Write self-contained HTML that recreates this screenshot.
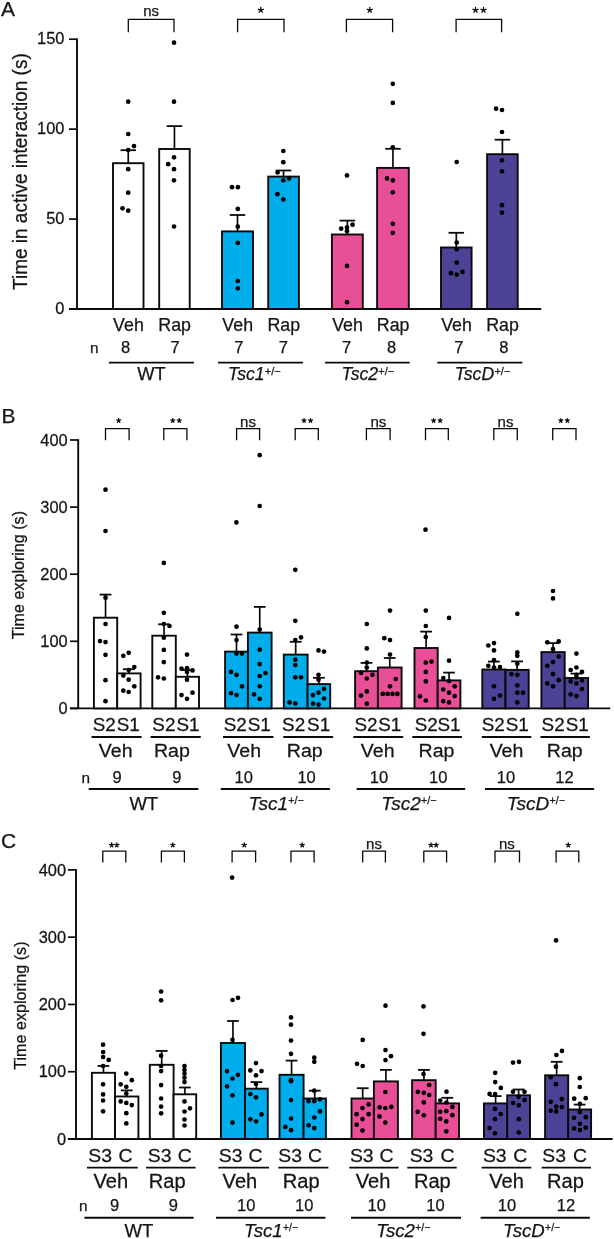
<!DOCTYPE html>
<html><head><meta charset="utf-8"><title>Figure</title>
<style>
html,body{margin:0;padding:0;background:#fff;}
body{width:614px;height:1239px;overflow:hidden;}
svg{display:block;will-change:transform;}
text{font-family:"Liberation Sans",sans-serif;fill:#141414;stroke:#141414;stroke-width:0.25px;}
</style></head>
<body>
<svg width="614" height="1239" viewBox="0 0 614 1239">
<text x="0.9" y="16.1" font-size="21" text-anchor="start">A</text>
<line x1="77" y1="38.4" x2="77" y2="309" stroke="#0a0a0a" stroke-width="1.9"/>
<line x1="69" y1="309" x2="77" y2="309" stroke="#0a0a0a" stroke-width="1.7"/>
<text transform="matrix(1.05 0 0 1 64.4 314.2)" font-size="15.6" text-anchor="end">0</text>
<line x1="69" y1="219.07" x2="77" y2="219.07" stroke="#0a0a0a" stroke-width="1.7"/>
<text transform="matrix(1.05 0 0 1 64.4 224.27)" font-size="15.6" text-anchor="end">50</text>
<line x1="69" y1="129.13" x2="77" y2="129.13" stroke="#0a0a0a" stroke-width="1.7"/>
<text transform="matrix(1.05 0 0 1 64.4 134.33)" font-size="15.6" text-anchor="end">100</text>
<line x1="69" y1="39.2" x2="77" y2="39.2" stroke="#0a0a0a" stroke-width="1.7"/>
<text transform="matrix(1.05 0 0 1 64.4 44.4)" font-size="15.6" text-anchor="end">150</text>
<line x1="69" y1="309" x2="541.2" y2="309" stroke="#0a0a0a" stroke-width="1.9"/>
<text transform="translate(26.8 171.6) scale(1.05 1) rotate(-90)" font-size="19" text-anchor="middle">Time in active interaction (s)</text>
<rect x="113" y="163.2" width="30.5" height="145.8" fill="#FFFFFF" stroke="#0a0a0a" stroke-width="1.9"/>
<rect x="159.2" y="149" width="30.5" height="160" fill="#FFFFFF" stroke="#0a0a0a" stroke-width="1.9"/>
<rect x="222" y="231.4" width="31" height="77.6" fill="#00ADEC" stroke="#0a0a0a" stroke-width="1.9"/>
<rect x="268.2" y="176.6" width="30.7" height="132.4" fill="#00ADEC" stroke="#0a0a0a" stroke-width="1.9"/>
<rect x="331.9" y="234.5" width="30.9" height="74.5" fill="#E84F96" stroke="#0a0a0a" stroke-width="1.9"/>
<rect x="377.1" y="167.9" width="31.7" height="141.1" fill="#E84F96" stroke="#0a0a0a" stroke-width="1.9"/>
<rect x="441" y="247.5" width="30.6" height="61.5" fill="#4C4396" stroke="#0a0a0a" stroke-width="1.9"/>
<rect x="487.1" y="154.2" width="30.6" height="154.8" fill="#4C4396" stroke="#0a0a0a" stroke-width="1.9"/>
<line x1="128.25" y1="163.2" x2="128.25" y2="150.2" stroke="#0a0a0a" stroke-width="1.7"/>
<line x1="120.5" y1="150.2" x2="136" y2="150.2" stroke="#0a0a0a" stroke-width="1.8"/>
<circle cx="128.2" cy="101.7" r="2.35"/>
<circle cx="128.2" cy="134" r="2.35"/>
<circle cx="134" cy="146.1" r="2.35"/>
<circle cx="128.2" cy="150" r="2.35"/>
<circle cx="128.2" cy="169.2" r="2.35"/>
<circle cx="128.2" cy="192.7" r="2.35"/>
<circle cx="122.5" cy="208.3" r="2.35"/>
<circle cx="128.2" cy="210.7" r="2.35"/>
<line x1="174.45" y1="149" x2="174.45" y2="126.1" stroke="#0a0a0a" stroke-width="1.7"/>
<line x1="166.7" y1="126.1" x2="182.2" y2="126.1" stroke="#0a0a0a" stroke-width="1.8"/>
<circle cx="174" cy="42.7" r="2.35"/>
<circle cx="174" cy="101.7" r="2.35"/>
<circle cx="174" cy="157.3" r="2.35"/>
<circle cx="168.2" cy="164.2" r="2.35"/>
<circle cx="174" cy="169.2" r="2.35"/>
<circle cx="174" cy="180.3" r="2.35"/>
<circle cx="174" cy="226.5" r="2.35"/>
<line x1="237.5" y1="231.4" x2="237.5" y2="215" stroke="#0a0a0a" stroke-width="1.7"/>
<line x1="229.75" y1="215" x2="245.25" y2="215" stroke="#0a0a0a" stroke-width="1.8"/>
<circle cx="232" cy="187.2" r="2.35"/>
<circle cx="237.9" cy="187.2" r="2.35"/>
<circle cx="237.8" cy="208.9" r="2.35"/>
<circle cx="237.8" cy="226.7" r="2.35"/>
<circle cx="237.8" cy="242.9" r="2.35"/>
<circle cx="237.8" cy="281" r="2.35"/>
<circle cx="237.8" cy="288.3" r="2.35"/>
<line x1="283.55" y1="176.6" x2="283.55" y2="170.5" stroke="#0a0a0a" stroke-width="1.7"/>
<line x1="275.8" y1="170.5" x2="291.3" y2="170.5" stroke="#0a0a0a" stroke-width="1.8"/>
<circle cx="283.3" cy="151" r="2.35"/>
<circle cx="283.3" cy="162.2" r="2.35"/>
<circle cx="277.6" cy="172.5" r="2.35"/>
<circle cx="289" cy="178.4" r="2.35"/>
<circle cx="283.3" cy="180.3" r="2.35"/>
<circle cx="277.5" cy="194.2" r="2.35"/>
<circle cx="283.3" cy="199.4" r="2.35"/>
<line x1="347.35" y1="234.5" x2="347.35" y2="220.6" stroke="#0a0a0a" stroke-width="1.7"/>
<line x1="339.6" y1="220.6" x2="355.1" y2="220.6" stroke="#0a0a0a" stroke-width="1.8"/>
<circle cx="347" cy="175.4" r="2.35"/>
<circle cx="341.2" cy="228.7" r="2.35"/>
<circle cx="352.6" cy="224.7" r="2.35"/>
<circle cx="347" cy="227.4" r="2.35"/>
<circle cx="347" cy="231.2" r="2.35"/>
<circle cx="347" cy="265.9" r="2.35"/>
<circle cx="347" cy="302.2" r="2.35"/>
<line x1="392.95" y1="167.9" x2="392.95" y2="148.8" stroke="#0a0a0a" stroke-width="1.7"/>
<line x1="385.2" y1="148.8" x2="400.7" y2="148.8" stroke="#0a0a0a" stroke-width="1.8"/>
<circle cx="392.8" cy="83.8" r="2.35"/>
<circle cx="392.8" cy="102.9" r="2.35"/>
<circle cx="392.8" cy="147.3" r="2.35"/>
<circle cx="387" cy="178.4" r="2.35"/>
<circle cx="392.8" cy="180.3" r="2.35"/>
<circle cx="392.8" cy="192.3" r="2.35"/>
<circle cx="392.8" cy="223.8" r="2.35"/>
<circle cx="392.8" cy="232.8" r="2.35"/>
<line x1="456.3" y1="247.5" x2="456.3" y2="232.8" stroke="#0a0a0a" stroke-width="1.7"/>
<line x1="448.55" y1="232.8" x2="464.05" y2="232.8" stroke="#0a0a0a" stroke-width="1.8"/>
<circle cx="456.7" cy="162" r="2.35"/>
<circle cx="456.7" cy="242.6" r="2.35"/>
<circle cx="456.7" cy="249.2" r="2.35"/>
<circle cx="456.7" cy="262.6" r="2.35"/>
<circle cx="450.9" cy="273.2" r="2.35"/>
<circle cx="456.7" cy="274.6" r="2.35"/>
<circle cx="462.5" cy="271.9" r="2.35"/>
<line x1="502.4" y1="154.2" x2="502.4" y2="139.7" stroke="#0a0a0a" stroke-width="1.7"/>
<line x1="494.65" y1="139.7" x2="510.15" y2="139.7" stroke="#0a0a0a" stroke-width="1.8"/>
<circle cx="496.1" cy="108.7" r="2.35"/>
<circle cx="502" cy="110" r="2.35"/>
<circle cx="502" cy="132" r="2.35"/>
<circle cx="502" cy="160.3" r="2.35"/>
<circle cx="502" cy="171.3" r="2.35"/>
<circle cx="502" cy="205.2" r="2.35"/>
<circle cx="502" cy="212.6" r="2.35"/>
<path d="M128.3 32.2V19.4H174V32.2" fill="none" stroke="#0a0a0a" stroke-width="1.3"/>
<text x="151.2" y="16.2" font-size="15" text-anchor="middle">ns</text>
<path d="M237.6 32.2V19.4H284V32.2" fill="none" stroke="#0a0a0a" stroke-width="1.3"/>
<path d="M260.8 10.1L260.8 7.45M260.8 10.1L263.32 9.28M260.8 10.1L262.36 12.24M260.8 10.1L259.24 12.24M260.8 10.1L258.28 9.28" stroke="#0a0a0a" stroke-width="1.3" stroke-linecap="round" fill="none"/>
<path d="M346.4 32.2V19.4H392.6V32.2" fill="none" stroke="#0a0a0a" stroke-width="1.3"/>
<path d="M369.8 10.1L369.8 7.45M369.8 10.1L372.32 9.28M369.8 10.1L371.36 12.24M369.8 10.1L368.24 12.24M369.8 10.1L367.28 9.28" stroke="#0a0a0a" stroke-width="1.3" stroke-linecap="round" fill="none"/>
<path d="M456.1 32.2V19.4H501.6V32.2" fill="none" stroke="#0a0a0a" stroke-width="1.3"/>
<path d="M475.5 10.1L475.5 7.45M475.5 10.1L478.02 9.28M475.5 10.1L477.06 12.24M475.5 10.1L473.94 12.24M475.5 10.1L472.98 9.28" stroke="#0a0a0a" stroke-width="1.3" stroke-linecap="round" fill="none"/>
<path d="M483.5 10.1L483.5 7.45M483.5 10.1L486.02 9.28M483.5 10.1L485.06 12.24M483.5 10.1L481.94 12.24M483.5 10.1L480.98 9.28" stroke="#0a0a0a" stroke-width="1.3" stroke-linecap="round" fill="none"/>
<text x="128.45" y="331.4" font-size="17.8" text-anchor="middle">Veh</text>
<text x="174.65" y="331.4" font-size="17.8" text-anchor="middle">Rap</text>
<text x="237.7" y="331.4" font-size="17.8" text-anchor="middle">Veh</text>
<text x="283.75" y="331.4" font-size="17.8" text-anchor="middle">Rap</text>
<text x="347.55" y="331.4" font-size="17.8" text-anchor="middle">Veh</text>
<text x="393.15" y="331.4" font-size="17.8" text-anchor="middle">Rap</text>
<text x="456.5" y="331.4" font-size="17.8" text-anchor="middle">Veh</text>
<text x="502.6" y="331.4" font-size="17.8" text-anchor="middle">Rap</text>
<text x="89.9" y="353" font-size="15.3" text-anchor="start">n</text>
<text x="125.5" y="353" font-size="16.5" text-anchor="middle">8</text>
<text x="175" y="353" font-size="16.5" text-anchor="middle">7</text>
<text x="238.8" y="353" font-size="16.5" text-anchor="middle">7</text>
<text x="283.3" y="353" font-size="16.5" text-anchor="middle">7</text>
<text x="346.6" y="353" font-size="16.5" text-anchor="middle">7</text>
<text x="391.7" y="353" font-size="16.5" text-anchor="middle">8</text>
<text x="458.9" y="353" font-size="16.5" text-anchor="middle">7</text>
<text x="503.9" y="353" font-size="16.5" text-anchor="middle">8</text>
<line x1="108.9" y1="362.6" x2="193.9" y2="362.6" stroke="#0a0a0a" stroke-width="1.95"/>
<line x1="218" y1="362.6" x2="303" y2="362.6" stroke="#0a0a0a" stroke-width="1.95"/>
<line x1="325.1" y1="362.6" x2="409.7" y2="362.6" stroke="#0a0a0a" stroke-width="1.95"/>
<line x1="437.3" y1="362.6" x2="522.4" y2="362.6" stroke="#0a0a0a" stroke-width="1.95"/>
<text x="151.5" y="379.9" font-size="18.3" text-anchor="middle">WT</text>
<text x="228" y="379.9" font-size="17.6" text-anchor="start"><tspan font-style="italic">Tsc1</tspan><tspan font-size="11" dx="0.3" dy="-5.28">+/&#8722;</tspan></text>
<text x="341.5" y="379.9" font-size="17.6" text-anchor="start"><tspan font-style="italic">Tsc2</tspan><tspan font-size="11" dx="0.3" dy="-5.28">+/&#8722;</tspan></text>
<text x="454.7" y="379.9" font-size="17.6" text-anchor="start"><tspan font-style="italic">TscD</tspan><tspan font-size="11" dx="0.3" dy="-5.28">+/&#8722;</tspan></text>
<text x="1.5" y="422.6" font-size="21" text-anchor="start">B</text>
<line x1="78.2" y1="439.2" x2="78.2" y2="708.4" stroke="#0a0a0a" stroke-width="1.9"/>
<line x1="70" y1="708.4" x2="78.2" y2="708.4" stroke="#0a0a0a" stroke-width="1.7"/>
<text transform="matrix(1.05 0 0 1 67.6 714)" font-size="15.6" text-anchor="end">0</text>
<line x1="70" y1="641.3" x2="78.2" y2="641.3" stroke="#0a0a0a" stroke-width="1.7"/>
<text transform="matrix(1.05 0 0 1 67.6 646.9)" font-size="15.6" text-anchor="end">100</text>
<line x1="70" y1="574.2" x2="78.2" y2="574.2" stroke="#0a0a0a" stroke-width="1.7"/>
<text transform="matrix(1.05 0 0 1 67.6 579.8)" font-size="15.6" text-anchor="end">200</text>
<line x1="70" y1="507.1" x2="78.2" y2="507.1" stroke="#0a0a0a" stroke-width="1.7"/>
<text transform="matrix(1.05 0 0 1 67.6 512.7)" font-size="15.6" text-anchor="end">300</text>
<line x1="70" y1="440" x2="78.2" y2="440" stroke="#0a0a0a" stroke-width="1.7"/>
<text transform="matrix(1.05 0 0 1 67.6 445.6)" font-size="15.6" text-anchor="end">400</text>
<line x1="70" y1="708.4" x2="610.2" y2="708.4" stroke="#0a0a0a" stroke-width="1.9"/>
<text transform="translate(24.3 575.1) scale(1.08 1) rotate(-90)" font-size="16.1" text-anchor="middle">Time exploring (s)</text>
<rect x="93.9" y="617.7" width="23.3" height="90.7" fill="#FFFFFF" stroke="#0a0a0a" stroke-width="1.9"/>
<rect x="117.2" y="673.4" width="23.4" height="35" fill="#FFFFFF" stroke="#0a0a0a" stroke-width="1.9"/>
<rect x="152.3" y="635.7" width="23.5" height="72.7" fill="#FFFFFF" stroke="#0a0a0a" stroke-width="1.9"/>
<rect x="175.8" y="676.8" width="23.2" height="31.6" fill="#FFFFFF" stroke="#0a0a0a" stroke-width="1.9"/>
<rect x="225.1" y="651.6" width="22.8" height="56.8" fill="#00ADEC" stroke="#0a0a0a" stroke-width="1.9"/>
<rect x="247.9" y="632.6" width="23.7" height="75.8" fill="#00ADEC" stroke="#0a0a0a" stroke-width="1.9"/>
<rect x="283.8" y="654.6" width="23.8" height="53.8" fill="#00ADEC" stroke="#0a0a0a" stroke-width="1.9"/>
<rect x="307.6" y="684.1" width="22.6" height="24.3" fill="#00ADEC" stroke="#0a0a0a" stroke-width="1.9"/>
<rect x="355.1" y="671.2" width="22.8" height="37.2" fill="#E84F96" stroke="#0a0a0a" stroke-width="1.9"/>
<rect x="377.9" y="667.5" width="23.7" height="40.9" fill="#E84F96" stroke="#0a0a0a" stroke-width="1.9"/>
<rect x="414.5" y="648" width="23.2" height="60.4" fill="#E84F96" stroke="#0a0a0a" stroke-width="1.9"/>
<rect x="437.7" y="680.4" width="22.7" height="28" fill="#E84F96" stroke="#0a0a0a" stroke-width="1.9"/>
<rect x="482.3" y="669.5" width="23.2" height="38.9" fill="#4C4396" stroke="#0a0a0a" stroke-width="1.9"/>
<rect x="505.5" y="669.9" width="23.2" height="38.5" fill="#4C4396" stroke="#0a0a0a" stroke-width="1.9"/>
<rect x="541.4" y="652.1" width="23.3" height="56.3" fill="#4C4396" stroke="#0a0a0a" stroke-width="1.9"/>
<rect x="564.7" y="678" width="23.4" height="30.4" fill="#4C4396" stroke="#0a0a0a" stroke-width="1.9"/>
<line x1="105.55" y1="617.7" x2="105.55" y2="594.6" stroke="#0a0a0a" stroke-width="1.7"/>
<line x1="99.65" y1="594.6" x2="111.45" y2="594.6" stroke="#0a0a0a" stroke-width="1.8"/>
<line x1="128.9" y1="673.4" x2="128.9" y2="669.2" stroke="#0a0a0a" stroke-width="1.7"/>
<line x1="123" y1="669.2" x2="134.8" y2="669.2" stroke="#0a0a0a" stroke-width="1.8"/>
<line x1="164.05" y1="635.7" x2="164.05" y2="624.3" stroke="#0a0a0a" stroke-width="1.7"/>
<line x1="158.15" y1="624.3" x2="169.95" y2="624.3" stroke="#0a0a0a" stroke-width="1.8"/>
<line x1="187.4" y1="676.8" x2="187.4" y2="670" stroke="#0a0a0a" stroke-width="1.7"/>
<line x1="181.5" y1="670" x2="193.3" y2="670" stroke="#0a0a0a" stroke-width="1.8"/>
<line x1="236.5" y1="651.6" x2="236.5" y2="634.5" stroke="#0a0a0a" stroke-width="1.7"/>
<line x1="230.6" y1="634.5" x2="242.4" y2="634.5" stroke="#0a0a0a" stroke-width="1.8"/>
<line x1="259.75" y1="632.6" x2="259.75" y2="606.9" stroke="#0a0a0a" stroke-width="1.7"/>
<line x1="253.85" y1="606.9" x2="265.65" y2="606.9" stroke="#0a0a0a" stroke-width="1.8"/>
<line x1="295.7" y1="654.6" x2="295.7" y2="641.8" stroke="#0a0a0a" stroke-width="1.7"/>
<line x1="289.8" y1="641.8" x2="301.6" y2="641.8" stroke="#0a0a0a" stroke-width="1.8"/>
<line x1="318.9" y1="684.1" x2="318.9" y2="677.8" stroke="#0a0a0a" stroke-width="1.7"/>
<line x1="313" y1="677.8" x2="324.8" y2="677.8" stroke="#0a0a0a" stroke-width="1.8"/>
<line x1="366.5" y1="671.2" x2="366.5" y2="662.9" stroke="#0a0a0a" stroke-width="1.7"/>
<line x1="360.6" y1="662.9" x2="372.4" y2="662.9" stroke="#0a0a0a" stroke-width="1.8"/>
<line x1="389.75" y1="667.5" x2="389.75" y2="658" stroke="#0a0a0a" stroke-width="1.7"/>
<line x1="383.85" y1="658" x2="395.65" y2="658" stroke="#0a0a0a" stroke-width="1.8"/>
<line x1="426.1" y1="648" x2="426.1" y2="631.6" stroke="#0a0a0a" stroke-width="1.7"/>
<line x1="420.2" y1="631.6" x2="432" y2="631.6" stroke="#0a0a0a" stroke-width="1.8"/>
<line x1="449.05" y1="680.4" x2="449.05" y2="672.6" stroke="#0a0a0a" stroke-width="1.7"/>
<line x1="443.15" y1="672.6" x2="454.95" y2="672.6" stroke="#0a0a0a" stroke-width="1.8"/>
<line x1="493.9" y1="669.5" x2="493.9" y2="661.6" stroke="#0a0a0a" stroke-width="1.7"/>
<line x1="488" y1="661.6" x2="499.8" y2="661.6" stroke="#0a0a0a" stroke-width="1.8"/>
<line x1="517.1" y1="669.9" x2="517.1" y2="661.4" stroke="#0a0a0a" stroke-width="1.7"/>
<line x1="511.2" y1="661.4" x2="523" y2="661.4" stroke="#0a0a0a" stroke-width="1.8"/>
<line x1="553.05" y1="652.1" x2="553.05" y2="643.1" stroke="#0a0a0a" stroke-width="1.7"/>
<line x1="547.15" y1="643.1" x2="558.95" y2="643.1" stroke="#0a0a0a" stroke-width="1.8"/>
<line x1="576.4" y1="678" x2="576.4" y2="673.6" stroke="#0a0a0a" stroke-width="1.7"/>
<line x1="570.5" y1="673.6" x2="582.3" y2="673.6" stroke="#0a0a0a" stroke-width="1.8"/>
<circle cx="105.5" cy="489.7" r="2.35"/>
<circle cx="105.5" cy="531" r="2.35"/>
<circle cx="105.5" cy="597.7" r="2.35"/>
<circle cx="105.5" cy="624" r="2.35"/>
<circle cx="100" cy="641.1" r="2.35"/>
<circle cx="105.5" cy="642.1" r="2.35"/>
<circle cx="105.5" cy="654.8" r="2.35"/>
<circle cx="105.5" cy="680.2" r="2.35"/>
<circle cx="105.5" cy="701.2" r="2.35"/>
<circle cx="123.3" cy="655.8" r="2.35"/>
<circle cx="128.7" cy="652.8" r="2.35"/>
<circle cx="134.3" cy="667" r="2.35"/>
<circle cx="123.3" cy="675.6" r="2.35"/>
<circle cx="128.7" cy="679.7" r="2.35"/>
<circle cx="134.3" cy="686.3" r="2.35"/>
<circle cx="123.3" cy="690.7" r="2.35"/>
<circle cx="128.7" cy="692" r="2.35"/>
<circle cx="128.7" cy="670" r="2.35"/>
<circle cx="163.8" cy="562.9" r="2.35"/>
<circle cx="163.8" cy="612.8" r="2.35"/>
<circle cx="163.8" cy="624" r="2.35"/>
<circle cx="169.5" cy="626" r="2.35"/>
<circle cx="163.8" cy="637.7" r="2.35"/>
<circle cx="163.8" cy="649.9" r="2.35"/>
<circle cx="163.8" cy="662.1" r="2.35"/>
<circle cx="158" cy="677.3" r="2.35"/>
<circle cx="163.8" cy="678.5" r="2.35"/>
<circle cx="187" cy="654.6" r="2.35"/>
<circle cx="181.5" cy="668.7" r="2.35"/>
<circle cx="187" cy="668.2" r="2.35"/>
<circle cx="192.5" cy="670.4" r="2.35"/>
<circle cx="187" cy="679.7" r="2.35"/>
<circle cx="181.5" cy="695.1" r="2.35"/>
<circle cx="187" cy="698.8" r="2.35"/>
<circle cx="192.5" cy="692.7" r="2.35"/>
<circle cx="187" cy="672" r="2.35"/>
<circle cx="236.4" cy="522.4" r="2.35"/>
<circle cx="236.5" cy="626.7" r="2.35"/>
<circle cx="236.5" cy="640.1" r="2.35"/>
<circle cx="236.5" cy="653.6" r="2.35"/>
<circle cx="242" cy="653.6" r="2.35"/>
<circle cx="231" cy="671.9" r="2.35"/>
<circle cx="236.5" cy="674.8" r="2.35"/>
<circle cx="242" cy="686.3" r="2.35"/>
<circle cx="231" cy="693.2" r="2.35"/>
<circle cx="236.5" cy="695.1" r="2.35"/>
<circle cx="259.7" cy="455.2" r="2.35"/>
<circle cx="259.7" cy="506" r="2.35"/>
<circle cx="259.7" cy="629.6" r="2.35"/>
<circle cx="259.7" cy="649.7" r="2.35"/>
<circle cx="259.7" cy="664.1" r="2.35"/>
<circle cx="259.7" cy="676" r="2.35"/>
<circle cx="265.5" cy="673.1" r="2.35"/>
<circle cx="259.7" cy="686.3" r="2.35"/>
<circle cx="254" cy="694.4" r="2.35"/>
<circle cx="259.7" cy="698.8" r="2.35"/>
<circle cx="295.3" cy="569.8" r="2.35"/>
<circle cx="295.3" cy="620.8" r="2.35"/>
<circle cx="301" cy="637.4" r="2.35"/>
<circle cx="295.3" cy="640.1" r="2.35"/>
<circle cx="295.3" cy="659.7" r="2.35"/>
<circle cx="295.3" cy="665.1" r="2.35"/>
<circle cx="295.3" cy="677.3" r="2.35"/>
<circle cx="301" cy="677.3" r="2.35"/>
<circle cx="289.5" cy="702.4" r="2.35"/>
<circle cx="295.3" cy="703.4" r="2.35"/>
<circle cx="318.5" cy="650.4" r="2.35"/>
<circle cx="324" cy="651.6" r="2.35"/>
<circle cx="318.5" cy="674.8" r="2.35"/>
<circle cx="318.5" cy="679.7" r="2.35"/>
<circle cx="324" cy="688.8" r="2.35"/>
<circle cx="313" cy="695.1" r="2.35"/>
<circle cx="318.5" cy="692.7" r="2.35"/>
<circle cx="324" cy="698.5" r="2.35"/>
<circle cx="313" cy="703.7" r="2.35"/>
<circle cx="318.5" cy="704.6" r="2.35"/>
<circle cx="366.8" cy="624" r="2.35"/>
<circle cx="366.8" cy="648.4" r="2.35"/>
<circle cx="366.8" cy="662.6" r="2.35"/>
<circle cx="366.8" cy="667.5" r="2.35"/>
<circle cx="361" cy="672.9" r="2.35"/>
<circle cx="366.8" cy="678.5" r="2.35"/>
<circle cx="372.5" cy="674.8" r="2.35"/>
<circle cx="366.8" cy="691.4" r="2.35"/>
<circle cx="361" cy="695.6" r="2.35"/>
<circle cx="366.8" cy="703.7" r="2.35"/>
<circle cx="390" cy="610.6" r="2.35"/>
<circle cx="384.3" cy="638.2" r="2.35"/>
<circle cx="390" cy="640.1" r="2.35"/>
<circle cx="390" cy="654.6" r="2.35"/>
<circle cx="395.7" cy="679" r="2.35"/>
<circle cx="390" cy="686.3" r="2.35"/>
<circle cx="382.8" cy="693.9" r="2.35"/>
<circle cx="387.6" cy="693.9" r="2.35"/>
<circle cx="392.5" cy="693.9" r="2.35"/>
<circle cx="397.4" cy="693.9" r="2.35"/>
<circle cx="425.5" cy="529.7" r="2.35"/>
<circle cx="425.8" cy="610.6" r="2.35"/>
<circle cx="425.8" cy="626" r="2.35"/>
<circle cx="425.8" cy="637" r="2.35"/>
<circle cx="425.8" cy="662.6" r="2.35"/>
<circle cx="431.5" cy="661.6" r="2.35"/>
<circle cx="425.8" cy="671.9" r="2.35"/>
<circle cx="425.8" cy="681.4" r="2.35"/>
<circle cx="420" cy="696.3" r="2.35"/>
<circle cx="425.8" cy="700.5" r="2.35"/>
<circle cx="449" cy="617.9" r="2.35"/>
<circle cx="449" cy="660.7" r="2.35"/>
<circle cx="443.3" cy="678" r="2.35"/>
<circle cx="449" cy="681" r="2.35"/>
<circle cx="454.7" cy="686.3" r="2.35"/>
<circle cx="443.3" cy="689.5" r="2.35"/>
<circle cx="449" cy="692.7" r="2.35"/>
<circle cx="454.7" cy="696.1" r="2.35"/>
<circle cx="443.3" cy="701.2" r="2.35"/>
<circle cx="449" cy="702.4" r="2.35"/>
<circle cx="488.3" cy="645.5" r="2.35"/>
<circle cx="494" cy="643.1" r="2.35"/>
<circle cx="494" cy="650.4" r="2.35"/>
<circle cx="494" cy="660.2" r="2.35"/>
<circle cx="488.3" cy="665.8" r="2.35"/>
<circle cx="500" cy="667" r="2.35"/>
<circle cx="494" cy="686.3" r="2.35"/>
<circle cx="500" cy="695.6" r="2.35"/>
<circle cx="494" cy="698.8" r="2.35"/>
<circle cx="494" cy="667.5" r="2.35"/>
<circle cx="517.3" cy="613.8" r="2.35"/>
<circle cx="517.3" cy="652.4" r="2.35"/>
<circle cx="517.3" cy="655.8" r="2.35"/>
<circle cx="517.3" cy="663.8" r="2.35"/>
<circle cx="511.5" cy="674.1" r="2.35"/>
<circle cx="517.3" cy="674.8" r="2.35"/>
<circle cx="517.3" cy="685.3" r="2.35"/>
<circle cx="517.3" cy="692.7" r="2.35"/>
<circle cx="523" cy="692.7" r="2.35"/>
<circle cx="517.3" cy="702.4" r="2.35"/>
<circle cx="553" cy="591" r="2.35"/>
<circle cx="553" cy="598.4" r="2.35"/>
<circle cx="547.3" cy="642.3" r="2.35"/>
<circle cx="558.7" cy="641.4" r="2.35"/>
<circle cx="553" cy="649.2" r="2.35"/>
<circle cx="558.7" cy="656.5" r="2.35"/>
<circle cx="553" cy="662.1" r="2.35"/>
<circle cx="547.3" cy="665.8" r="2.35"/>
<circle cx="553" cy="674.1" r="2.35"/>
<circle cx="558.7" cy="680.2" r="2.35"/>
<circle cx="547.3" cy="683.4" r="2.35"/>
<circle cx="553" cy="686.3" r="2.35"/>
<circle cx="576.4" cy="653.6" r="2.35"/>
<circle cx="576.4" cy="667.5" r="2.35"/>
<circle cx="570.7" cy="670" r="2.35"/>
<circle cx="582" cy="671.9" r="2.35"/>
<circle cx="576.4" cy="674.8" r="2.35"/>
<circle cx="570.7" cy="681.4" r="2.35"/>
<circle cx="582" cy="680.4" r="2.35"/>
<circle cx="576.4" cy="683.4" r="2.35"/>
<circle cx="582" cy="689" r="2.35"/>
<circle cx="570.7" cy="694.4" r="2.35"/>
<circle cx="576.4" cy="696.1" r="2.35"/>
<circle cx="576.4" cy="677.3" r="2.35"/>
<path d="M105.5 440.2V428.7H129.1V440.2" fill="none" stroke="#0a0a0a" stroke-width="1.3"/>
<path d="M118.7 420.6L118.7 418.55M118.7 420.6L120.65 419.97M118.7 420.6L119.9 422.26M118.7 420.6L117.5 422.26M118.7 420.6L116.75 419.97" stroke="#0a0a0a" stroke-width="1.3" stroke-linecap="round" fill="none"/>
<path d="M163.8 440.2V428.7H186.9V440.2" fill="none" stroke="#0a0a0a" stroke-width="1.3"/>
<path d="M172.75 420.6L172.75 418.55M172.75 420.6L174.7 419.97M172.75 420.6L173.95 422.26M172.75 420.6L171.55 422.26M172.75 420.6L170.8 419.97" stroke="#0a0a0a" stroke-width="1.3" stroke-linecap="round" fill="none"/>
<path d="M179.25 420.6L179.25 418.55M179.25 420.6L181.2 419.97M179.25 420.6L180.45 422.26M179.25 420.6L178.05 422.26M179.25 420.6L177.3 419.97" stroke="#0a0a0a" stroke-width="1.3" stroke-linecap="round" fill="none"/>
<path d="M236.6 440.2V428.7H259.6V440.2" fill="none" stroke="#0a0a0a" stroke-width="1.3"/>
<text x="248" y="426.7" font-size="15" text-anchor="middle">ns</text>
<path d="M295.2 440.2V428.7H318.3V440.2" fill="none" stroke="#0a0a0a" stroke-width="1.3"/>
<path d="M304.05 420.6L304.05 418.55M304.05 420.6L306 419.97M304.05 420.6L305.25 422.26M304.05 420.6L302.85 422.26M304.05 420.6L302.1 419.97" stroke="#0a0a0a" stroke-width="1.3" stroke-linecap="round" fill="none"/>
<path d="M310.55 420.6L310.55 418.55M310.55 420.6L312.5 419.97M310.55 420.6L311.75 422.26M310.55 420.6L309.35 422.26M310.55 420.6L308.6 419.97" stroke="#0a0a0a" stroke-width="1.3" stroke-linecap="round" fill="none"/>
<path d="M366.4 440.2V428.7H390.1V440.2" fill="none" stroke="#0a0a0a" stroke-width="1.3"/>
<text x="378.4" y="426.7" font-size="15" text-anchor="middle">ns</text>
<path d="M425.5 440.2V428.7H448.3V440.2" fill="none" stroke="#0a0a0a" stroke-width="1.3"/>
<path d="M433.65 420.6L433.65 418.55M433.65 420.6L435.6 419.97M433.65 420.6L434.85 422.26M433.65 420.6L432.45 422.26M433.65 420.6L431.7 419.97" stroke="#0a0a0a" stroke-width="1.3" stroke-linecap="round" fill="none"/>
<path d="M440.15 420.6L440.15 418.55M440.15 420.6L442.1 419.97M440.15 420.6L441.35 422.26M440.15 420.6L438.95 422.26M440.15 420.6L438.2 419.97" stroke="#0a0a0a" stroke-width="1.3" stroke-linecap="round" fill="none"/>
<path d="M493.8 440.2V428.7H517.3V440.2" fill="none" stroke="#0a0a0a" stroke-width="1.3"/>
<text x="505.5" y="426.7" font-size="15" text-anchor="middle">ns</text>
<path d="M552.7 440.2V428.7H576V440.2" fill="none" stroke="#0a0a0a" stroke-width="1.3"/>
<path d="M560.85 420.6L560.85 418.55M560.85 420.6L562.8 419.97M560.85 420.6L562.05 422.26M560.85 420.6L559.65 422.26M560.85 420.6L558.9 419.97" stroke="#0a0a0a" stroke-width="1.3" stroke-linecap="round" fill="none"/>
<path d="M567.35 420.6L567.35 418.55M567.35 420.6L569.3 419.97M567.35 420.6L568.55 422.26M567.35 420.6L566.15 422.26M567.35 420.6L565.4 419.97" stroke="#0a0a0a" stroke-width="1.3" stroke-linecap="round" fill="none"/>
<text transform="matrix(1.05 0 0 1 104.3 730.8)" font-size="18" text-anchor="middle">S2</text>
<text transform="matrix(1.05 0 0 1 128.3 730.8)" font-size="18" text-anchor="middle">S1</text>
<line x1="91.6" y1="737" x2="141.6" y2="737" stroke="#0a0a0a" stroke-width="1.8"/>
<text transform="matrix(1.03 0 0 1 115.7 756.9)" font-size="19" text-anchor="middle">Veh</text>
<text x="117.1" y="782.7" font-size="16.5" text-anchor="middle">9</text>
<text transform="matrix(1.05 0 0 1 163.9 730.8)" font-size="18" text-anchor="middle">S2</text>
<text transform="matrix(1.05 0 0 1 188 730.8)" font-size="18" text-anchor="middle">S1</text>
<line x1="150.6" y1="737" x2="200.7" y2="737" stroke="#0a0a0a" stroke-width="1.8"/>
<text transform="matrix(1.03 0 0 1 171.9 756.9)" font-size="19" text-anchor="middle">Rap</text>
<text x="176.8" y="782.7" font-size="16.5" text-anchor="middle">9</text>
<text transform="matrix(1.05 0 0 1 235.3 730.8)" font-size="18" text-anchor="middle">S2</text>
<text transform="matrix(1.05 0 0 1 259.2 730.8)" font-size="18" text-anchor="middle">S1</text>
<line x1="223" y1="737" x2="273.5" y2="737" stroke="#0a0a0a" stroke-width="1.8"/>
<text transform="matrix(1.03 0 0 1 244.2 756.9)" font-size="19" text-anchor="middle">Veh</text>
<text x="243.7" y="782.7" font-size="16.5" text-anchor="middle">10</text>
<text transform="matrix(1.05 0 0 1 293.6 730.8)" font-size="18" text-anchor="middle">S2</text>
<text transform="matrix(1.05 0 0 1 318.6 730.8)" font-size="18" text-anchor="middle">S1</text>
<line x1="283.3" y1="737" x2="333.1" y2="737" stroke="#0a0a0a" stroke-width="1.8"/>
<text transform="matrix(1.03 0 0 1 304.8 756.9)" font-size="19" text-anchor="middle">Rap</text>
<text x="306.6" y="782.7" font-size="16.5" text-anchor="middle">10</text>
<text transform="matrix(1.05 0 0 1 366 730.8)" font-size="18" text-anchor="middle">S2</text>
<text transform="matrix(1.05 0 0 1 389.7 730.8)" font-size="18" text-anchor="middle">S1</text>
<line x1="353.3" y1="737" x2="403.2" y2="737" stroke="#0a0a0a" stroke-width="1.8"/>
<text transform="matrix(1.03 0 0 1 377.7 756.9)" font-size="19" text-anchor="middle">Veh</text>
<text x="378.9" y="782.7" font-size="16.5" text-anchor="middle">10</text>
<text transform="matrix(1.05 0 0 1 426.2 730.8)" font-size="18" text-anchor="middle">S2</text>
<text transform="matrix(1.05 0 0 1 449 730.8)" font-size="18" text-anchor="middle">S1</text>
<line x1="412.3" y1="737" x2="461.9" y2="737" stroke="#0a0a0a" stroke-width="1.8"/>
<text transform="matrix(1.03 0 0 1 436.5 756.9)" font-size="19" text-anchor="middle">Rap</text>
<text x="438.3" y="782.7" font-size="16.5" text-anchor="middle">10</text>
<text transform="matrix(1.05 0 0 1 493.3 730.8)" font-size="18" text-anchor="middle">S2</text>
<text transform="matrix(1.05 0 0 1 517.2 730.8)" font-size="18" text-anchor="middle">S1</text>
<line x1="481.8" y1="737" x2="531.3" y2="737" stroke="#0a0a0a" stroke-width="1.8"/>
<text transform="matrix(1.03 0 0 1 506.5 756.9)" font-size="19" text-anchor="middle">Veh</text>
<text x="505.9" y="782.7" font-size="16.5" text-anchor="middle">10</text>
<text transform="matrix(1.05 0 0 1 553.1 730.8)" font-size="18" text-anchor="middle">S2</text>
<text transform="matrix(1.05 0 0 1 577.2 730.8)" font-size="18" text-anchor="middle">S1</text>
<line x1="540.4" y1="737" x2="589.9" y2="737" stroke="#0a0a0a" stroke-width="1.8"/>
<text transform="matrix(1.03 0 0 1 564.8 756.9)" font-size="19" text-anchor="middle">Rap</text>
<text x="564.5" y="782.7" font-size="16.5" text-anchor="middle">12</text>
<text x="81.6" y="782.7" font-size="15.3" text-anchor="start">n</text>
<line x1="88.7" y1="789" x2="198.4" y2="789" stroke="#0a0a0a" stroke-width="1.95"/>
<line x1="220.7" y1="789" x2="329.9" y2="789" stroke="#0a0a0a" stroke-width="1.95"/>
<line x1="356.6" y1="789" x2="465.1" y2="789" stroke="#0a0a0a" stroke-width="1.95"/>
<line x1="485" y1="789" x2="594.1" y2="789" stroke="#0a0a0a" stroke-width="1.95"/>
<text x="143.8" y="810" font-size="18.5" text-anchor="middle">WT</text>
<text x="248.6" y="810" font-size="19" text-anchor="start"><tspan font-style="italic">Tsc1</tspan><tspan font-size="10.64" dx="0.3" dy="-5.7">+/&#8722;</tspan></text>
<text x="381.3" y="810" font-size="19" text-anchor="start"><tspan font-style="italic">Tsc2</tspan><tspan font-size="10.64" dx="0.3" dy="-5.7">+/&#8722;</tspan></text>
<text x="506.7" y="810" font-size="19" text-anchor="start"><tspan font-style="italic">TscD</tspan><tspan font-size="10.64" dx="0.3" dy="-5.7">+/&#8722;</tspan></text>
<text x="0.9" y="848.3" font-size="21" text-anchor="start">C</text>
<line x1="76" y1="869.1" x2="76" y2="1139" stroke="#0a0a0a" stroke-width="1.9"/>
<line x1="67.9" y1="1139" x2="76" y2="1139" stroke="#0a0a0a" stroke-width="1.7"/>
<text transform="matrix(1.05 0 0 1 66 1144.6)" font-size="15.6" text-anchor="end">0</text>
<line x1="67.9" y1="1071.72" x2="76" y2="1071.72" stroke="#0a0a0a" stroke-width="1.7"/>
<text transform="matrix(1.05 0 0 1 66 1077.32)" font-size="15.6" text-anchor="end">100</text>
<line x1="67.9" y1="1004.45" x2="76" y2="1004.45" stroke="#0a0a0a" stroke-width="1.7"/>
<text transform="matrix(1.05 0 0 1 66 1010.05)" font-size="15.6" text-anchor="end">200</text>
<line x1="67.9" y1="937.17" x2="76" y2="937.17" stroke="#0a0a0a" stroke-width="1.7"/>
<text transform="matrix(1.05 0 0 1 66 942.77)" font-size="15.6" text-anchor="end">300</text>
<line x1="67.9" y1="869.9" x2="76" y2="869.9" stroke="#0a0a0a" stroke-width="1.7"/>
<text transform="matrix(1.05 0 0 1 66 875.5)" font-size="15.6" text-anchor="end">400</text>
<line x1="67.9" y1="1139" x2="612.6" y2="1139" stroke="#0a0a0a" stroke-width="1.9"/>
<text transform="translate(26.3 1005.6) scale(1.08 1) rotate(-90)" font-size="16.1" text-anchor="middle">Time exploring (s)</text>
<rect x="91.9" y="1072.8" width="23.1" height="66.2" fill="#FFFFFF" stroke="#0a0a0a" stroke-width="1.9"/>
<rect x="115" y="1096.5" width="23.4" height="42.5" fill="#FFFFFF" stroke="#0a0a0a" stroke-width="1.9"/>
<rect x="149.8" y="1064.8" width="23.8" height="74.2" fill="#FFFFFF" stroke="#0a0a0a" stroke-width="1.9"/>
<rect x="173.6" y="1094.3" width="22.6" height="44.7" fill="#FFFFFF" stroke="#0a0a0a" stroke-width="1.9"/>
<rect x="220.9" y="1043" width="24.1" height="96" fill="#00ADEC" stroke="#0a0a0a" stroke-width="1.9"/>
<rect x="245" y="1088.7" width="22.8" height="50.3" fill="#00ADEC" stroke="#0a0a0a" stroke-width="1.9"/>
<rect x="279.5" y="1074.8" width="24.1" height="64.2" fill="#00ADEC" stroke="#0a0a0a" stroke-width="1.9"/>
<rect x="303.6" y="1098.5" width="22.3" height="40.5" fill="#00ADEC" stroke="#0a0a0a" stroke-width="1.9"/>
<rect x="351.5" y="1098.5" width="22.4" height="40.5" fill="#E84F96" stroke="#0a0a0a" stroke-width="1.9"/>
<rect x="373.9" y="1081.4" width="24" height="57.6" fill="#E84F96" stroke="#0a0a0a" stroke-width="1.9"/>
<rect x="412.1" y="1080.2" width="23.6" height="58.8" fill="#E84F96" stroke="#0a0a0a" stroke-width="1.9"/>
<rect x="435.7" y="1103.4" width="23.3" height="35.6" fill="#E84F96" stroke="#0a0a0a" stroke-width="1.9"/>
<rect x="484" y="1103.4" width="23.2" height="35.6" fill="#4C4396" stroke="#0a0a0a" stroke-width="1.9"/>
<rect x="507.2" y="1095.3" width="22.8" height="43.7" fill="#4C4396" stroke="#0a0a0a" stroke-width="1.9"/>
<rect x="545.1" y="1075.3" width="23.1" height="63.7" fill="#4C4396" stroke="#0a0a0a" stroke-width="1.9"/>
<rect x="568.2" y="1109.5" width="22.9" height="29.5" fill="#4C4396" stroke="#0a0a0a" stroke-width="1.9"/>
<line x1="103.45" y1="1072.8" x2="103.45" y2="1066" stroke="#0a0a0a" stroke-width="1.7"/>
<line x1="97.55" y1="1066" x2="109.35" y2="1066" stroke="#0a0a0a" stroke-width="1.8"/>
<line x1="126.7" y1="1096.5" x2="126.7" y2="1090.4" stroke="#0a0a0a" stroke-width="1.7"/>
<line x1="120.8" y1="1090.4" x2="132.6" y2="1090.4" stroke="#0a0a0a" stroke-width="1.8"/>
<line x1="161.7" y1="1064.8" x2="161.7" y2="1050.9" stroke="#0a0a0a" stroke-width="1.7"/>
<line x1="155.8" y1="1050.9" x2="167.6" y2="1050.9" stroke="#0a0a0a" stroke-width="1.8"/>
<line x1="184.9" y1="1094.3" x2="184.9" y2="1087.5" stroke="#0a0a0a" stroke-width="1.7"/>
<line x1="179" y1="1087.5" x2="190.8" y2="1087.5" stroke="#0a0a0a" stroke-width="1.8"/>
<line x1="232.95" y1="1043" x2="232.95" y2="1021" stroke="#0a0a0a" stroke-width="1.7"/>
<line x1="227.05" y1="1021" x2="238.85" y2="1021" stroke="#0a0a0a" stroke-width="1.8"/>
<line x1="256.4" y1="1088.7" x2="256.4" y2="1082.1" stroke="#0a0a0a" stroke-width="1.7"/>
<line x1="250.5" y1="1082.1" x2="262.3" y2="1082.1" stroke="#0a0a0a" stroke-width="1.8"/>
<line x1="291.55" y1="1074.8" x2="291.55" y2="1060.6" stroke="#0a0a0a" stroke-width="1.7"/>
<line x1="285.65" y1="1060.6" x2="297.45" y2="1060.6" stroke="#0a0a0a" stroke-width="1.8"/>
<line x1="314.75" y1="1098.5" x2="314.75" y2="1090.7" stroke="#0a0a0a" stroke-width="1.7"/>
<line x1="308.85" y1="1090.7" x2="320.65" y2="1090.7" stroke="#0a0a0a" stroke-width="1.8"/>
<line x1="362.7" y1="1098.5" x2="362.7" y2="1088.2" stroke="#0a0a0a" stroke-width="1.7"/>
<line x1="356.8" y1="1088.2" x2="368.6" y2="1088.2" stroke="#0a0a0a" stroke-width="1.8"/>
<line x1="385.9" y1="1081.4" x2="385.9" y2="1069.9" stroke="#0a0a0a" stroke-width="1.7"/>
<line x1="380" y1="1069.9" x2="391.8" y2="1069.9" stroke="#0a0a0a" stroke-width="1.8"/>
<line x1="423.9" y1="1080.2" x2="423.9" y2="1069.9" stroke="#0a0a0a" stroke-width="1.7"/>
<line x1="418" y1="1069.9" x2="429.8" y2="1069.9" stroke="#0a0a0a" stroke-width="1.8"/>
<line x1="447.35" y1="1103.4" x2="447.35" y2="1097.8" stroke="#0a0a0a" stroke-width="1.7"/>
<line x1="441.45" y1="1097.8" x2="453.25" y2="1097.8" stroke="#0a0a0a" stroke-width="1.8"/>
<line x1="495.6" y1="1103.4" x2="495.6" y2="1096.1" stroke="#0a0a0a" stroke-width="1.7"/>
<line x1="489.7" y1="1096.1" x2="501.5" y2="1096.1" stroke="#0a0a0a" stroke-width="1.8"/>
<line x1="518.6" y1="1095.3" x2="518.6" y2="1089.5" stroke="#0a0a0a" stroke-width="1.7"/>
<line x1="512.7" y1="1089.5" x2="524.5" y2="1089.5" stroke="#0a0a0a" stroke-width="1.8"/>
<line x1="556.65" y1="1075.3" x2="556.65" y2="1061.8" stroke="#0a0a0a" stroke-width="1.7"/>
<line x1="550.75" y1="1061.8" x2="562.55" y2="1061.8" stroke="#0a0a0a" stroke-width="1.8"/>
<line x1="579.65" y1="1109.5" x2="579.65" y2="1104.6" stroke="#0a0a0a" stroke-width="1.7"/>
<line x1="573.75" y1="1104.6" x2="585.55" y2="1104.6" stroke="#0a0a0a" stroke-width="1.8"/>
<circle cx="103.1" cy="1044.7" r="2.35"/>
<circle cx="103.1" cy="1052.1" r="2.35"/>
<circle cx="103.1" cy="1057" r="2.35"/>
<circle cx="108.7" cy="1059.9" r="2.35"/>
<circle cx="103.1" cy="1084.3" r="2.35"/>
<circle cx="103.1" cy="1094.4" r="2.35"/>
<circle cx="103.1" cy="1100.5" r="2.35"/>
<circle cx="103.1" cy="1111.3" r="2.35"/>
<circle cx="103.1" cy="1066" r="2.35"/>
<circle cx="126.3" cy="1073.6" r="2.35"/>
<circle cx="131.8" cy="1080.2" r="2.35"/>
<circle cx="120.7" cy="1084.3" r="2.35"/>
<circle cx="126.3" cy="1086.8" r="2.35"/>
<circle cx="126.3" cy="1093.6" r="2.35"/>
<circle cx="120.7" cy="1101.4" r="2.35"/>
<circle cx="126.3" cy="1102.9" r="2.35"/>
<circle cx="131.8" cy="1105.1" r="2.35"/>
<circle cx="126.3" cy="1113.2" r="2.35"/>
<circle cx="126.3" cy="1123.4" r="2.35"/>
<circle cx="161.1" cy="991.5" r="2.35"/>
<circle cx="161.1" cy="1000.3" r="2.35"/>
<circle cx="161.1" cy="1055.7" r="2.35"/>
<circle cx="161.1" cy="1066" r="2.35"/>
<circle cx="161.1" cy="1071.1" r="2.35"/>
<circle cx="161.1" cy="1085.1" r="2.35"/>
<circle cx="161.1" cy="1098.5" r="2.35"/>
<circle cx="161.1" cy="1106.6" r="2.35"/>
<circle cx="161.1" cy="1113.3" r="2.35"/>
<circle cx="184.5" cy="1066" r="2.35"/>
<circle cx="184.5" cy="1069.9" r="2.35"/>
<circle cx="184.5" cy="1073.6" r="2.35"/>
<circle cx="184.5" cy="1077.7" r="2.35"/>
<circle cx="184.5" cy="1082.1" r="2.35"/>
<circle cx="184.5" cy="1101.4" r="2.35"/>
<circle cx="190" cy="1108.3" r="2.35"/>
<circle cx="184.5" cy="1111.5" r="2.35"/>
<circle cx="184.5" cy="1119.5" r="2.35"/>
<circle cx="184.5" cy="1125.5" r="2.35"/>
<circle cx="232.1" cy="877.6" r="2.35"/>
<circle cx="232.5" cy="1000" r="2.35"/>
<circle cx="238" cy="997.8" r="2.35"/>
<circle cx="232.5" cy="1039.9" r="2.35"/>
<circle cx="227" cy="1071.1" r="2.35"/>
<circle cx="232.5" cy="1078.5" r="2.35"/>
<circle cx="238" cy="1074.8" r="2.35"/>
<circle cx="227" cy="1086.3" r="2.35"/>
<circle cx="232.5" cy="1095.3" r="2.35"/>
<circle cx="232.5" cy="1122.6" r="2.35"/>
<circle cx="256" cy="1063.1" r="2.35"/>
<circle cx="250.3" cy="1070.4" r="2.35"/>
<circle cx="261.5" cy="1071.1" r="2.35"/>
<circle cx="256" cy="1075.3" r="2.35"/>
<circle cx="250.3" cy="1094.1" r="2.35"/>
<circle cx="256" cy="1097.3" r="2.35"/>
<circle cx="261.5" cy="1114.4" r="2.35"/>
<circle cx="250.3" cy="1119.3" r="2.35"/>
<circle cx="256" cy="1121.3" r="2.35"/>
<circle cx="256" cy="1084" r="2.35"/>
<circle cx="291" cy="1017.4" r="2.35"/>
<circle cx="291" cy="1024.7" r="2.35"/>
<circle cx="291" cy="1040.6" r="2.35"/>
<circle cx="291" cy="1053.8" r="2.35"/>
<circle cx="291" cy="1080.2" r="2.35"/>
<circle cx="291" cy="1100.1" r="2.35"/>
<circle cx="291" cy="1118.5" r="2.35"/>
<circle cx="285.3" cy="1126.9" r="2.35"/>
<circle cx="291" cy="1130.2" r="2.35"/>
<circle cx="291" cy="1081.2" r="2.35"/>
<circle cx="314.3" cy="1057.7" r="2.35"/>
<circle cx="314.3" cy="1061.8" r="2.35"/>
<circle cx="308.6" cy="1101.2" r="2.35"/>
<circle cx="314.3" cy="1101.2" r="2.35"/>
<circle cx="320" cy="1099.3" r="2.35"/>
<circle cx="320" cy="1111.4" r="2.35"/>
<circle cx="314.3" cy="1117.5" r="2.35"/>
<circle cx="308.6" cy="1125.3" r="2.35"/>
<circle cx="314.3" cy="1128.1" r="2.35"/>
<circle cx="314.3" cy="1090.7" r="2.35"/>
<circle cx="362.7" cy="1039.9" r="2.35"/>
<circle cx="357" cy="1063.8" r="2.35"/>
<circle cx="362.7" cy="1066" r="2.35"/>
<circle cx="368.6" cy="1104.4" r="2.35"/>
<circle cx="362.5" cy="1108.1" r="2.35"/>
<circle cx="356.6" cy="1114.2" r="2.35"/>
<circle cx="368.6" cy="1114.2" r="2.35"/>
<circle cx="362.5" cy="1119.1" r="2.35"/>
<circle cx="356.6" cy="1124.7" r="2.35"/>
<circle cx="362.5" cy="1130.6" r="2.35"/>
<circle cx="385.5" cy="1005.7" r="2.35"/>
<circle cx="385.5" cy="1050.1" r="2.35"/>
<circle cx="391" cy="1056.2" r="2.35"/>
<circle cx="385.5" cy="1060.1" r="2.35"/>
<circle cx="385.3" cy="1092" r="2.35"/>
<circle cx="379.6" cy="1107.3" r="2.35"/>
<circle cx="385.3" cy="1108" r="2.35"/>
<circle cx="391.3" cy="1106.9" r="2.35"/>
<circle cx="379.6" cy="1116.4" r="2.35"/>
<circle cx="385.3" cy="1122.6" r="2.35"/>
<circle cx="423.5" cy="1006.4" r="2.35"/>
<circle cx="423.5" cy="1033.8" r="2.35"/>
<circle cx="423.5" cy="1074.1" r="2.35"/>
<circle cx="429.2" cy="1085" r="2.35"/>
<circle cx="417.8" cy="1091.8" r="2.35"/>
<circle cx="423.8" cy="1092.8" r="2.35"/>
<circle cx="429.2" cy="1095" r="2.35"/>
<circle cx="423.8" cy="1102.4" r="2.35"/>
<circle cx="417.7" cy="1111.8" r="2.35"/>
<circle cx="423.8" cy="1115.3" r="2.35"/>
<circle cx="446.5" cy="1091.7" r="2.35"/>
<circle cx="440.2" cy="1100.5" r="2.35"/>
<circle cx="446.3" cy="1102.5" r="2.35"/>
<circle cx="452.4" cy="1106.9" r="2.35"/>
<circle cx="440.2" cy="1111.8" r="2.35"/>
<circle cx="446.3" cy="1111.2" r="2.35"/>
<circle cx="452.4" cy="1115.2" r="2.35"/>
<circle cx="440.2" cy="1118.8" r="2.35"/>
<circle cx="446.3" cy="1121.4" r="2.35"/>
<circle cx="446.3" cy="1131.3" r="2.35"/>
<circle cx="495.2" cy="1072.8" r="2.35"/>
<circle cx="495.2" cy="1082.1" r="2.35"/>
<circle cx="500.8" cy="1087.9" r="2.35"/>
<circle cx="489.6" cy="1093.9" r="2.35"/>
<circle cx="495.1" cy="1094.1" r="2.35"/>
<circle cx="495" cy="1108.9" r="2.35"/>
<circle cx="500.7" cy="1114" r="2.35"/>
<circle cx="495" cy="1119.2" r="2.35"/>
<circle cx="489.6" cy="1128.1" r="2.35"/>
<circle cx="495" cy="1133.3" r="2.35"/>
<circle cx="513" cy="1062.6" r="2.35"/>
<circle cx="519" cy="1061.8" r="2.35"/>
<circle cx="513" cy="1091.8" r="2.35"/>
<circle cx="524.5" cy="1091.8" r="2.35"/>
<circle cx="518.6" cy="1096.8" r="2.35"/>
<circle cx="524.6" cy="1100.1" r="2.35"/>
<circle cx="513" cy="1103" r="2.35"/>
<circle cx="518.8" cy="1105.3" r="2.35"/>
<circle cx="518.8" cy="1119.2" r="2.35"/>
<circle cx="518.8" cy="1132.5" r="2.35"/>
<circle cx="556.1" cy="940.4" r="2.35"/>
<circle cx="556.4" cy="1055" r="2.35"/>
<circle cx="562" cy="1050.9" r="2.35"/>
<circle cx="555.9" cy="1066.7" r="2.35"/>
<circle cx="550.7" cy="1077.2" r="2.35"/>
<circle cx="555.9" cy="1084.2" r="2.35"/>
<circle cx="561.8" cy="1099.1" r="2.35"/>
<circle cx="550.7" cy="1101.8" r="2.35"/>
<circle cx="556.2" cy="1106.6" r="2.35"/>
<circle cx="561.8" cy="1107" r="2.35"/>
<circle cx="550.7" cy="1110.7" r="2.35"/>
<circle cx="556.2" cy="1111.4" r="2.35"/>
<circle cx="579.8" cy="1078.2" r="2.35"/>
<circle cx="579.8" cy="1087" r="2.35"/>
<circle cx="574.2" cy="1098.7" r="2.35"/>
<circle cx="585.7" cy="1098.2" r="2.35"/>
<circle cx="579.9" cy="1103.9" r="2.35"/>
<circle cx="579.8" cy="1111.9" r="2.35"/>
<circle cx="574" cy="1117.8" r="2.35"/>
<circle cx="585.7" cy="1117.2" r="2.35"/>
<circle cx="579.9" cy="1123.8" r="2.35"/>
<circle cx="574" cy="1128.4" r="2.35"/>
<circle cx="585.7" cy="1127.7" r="2.35"/>
<circle cx="579.9" cy="1130.1" r="2.35"/>
<path d="M102.8 862.5V851.1H125.8V862.5" fill="none" stroke="#0a0a0a" stroke-width="1.3"/>
<path d="M111.6 845L111.6 842.8M111.6 845L113.69 844.32M111.6 845L112.89 846.78M111.6 845L110.31 846.78M111.6 845L109.51 844.32" stroke="#0a0a0a" stroke-width="1.3" stroke-linecap="round" fill="none"/>
<path d="M116.8 845L116.8 842.8M116.8 845L118.89 844.32M116.8 845L118.09 846.78M116.8 845L115.51 846.78M116.8 845L114.71 844.32" stroke="#0a0a0a" stroke-width="1.3" stroke-linecap="round" fill="none"/>
<path d="M161.4 862.5V851.1H184.4V862.5" fill="none" stroke="#0a0a0a" stroke-width="1.3"/>
<path d="M172.8 845L172.8 842.8M172.8 845L174.89 844.32M172.8 845L174.09 846.78M172.8 845L171.51 846.78M172.8 845L170.71 844.32" stroke="#0a0a0a" stroke-width="1.3" stroke-linecap="round" fill="none"/>
<path d="M232.1 862.5V851.1H255.6V862.5" fill="none" stroke="#0a0a0a" stroke-width="1.3"/>
<path d="M244.3 845L244.3 842.8M244.3 845L246.39 844.32M244.3 845L245.59 846.78M244.3 845L243.01 846.78M244.3 845L242.21 844.32" stroke="#0a0a0a" stroke-width="1.3" stroke-linecap="round" fill="none"/>
<path d="M291 862.5V851.1H314.1V862.5" fill="none" stroke="#0a0a0a" stroke-width="1.3"/>
<path d="M302.2 845L302.2 842.8M302.2 845L304.29 844.32M302.2 845L303.49 846.78M302.2 845L300.91 846.78M302.2 845L300.11 844.32" stroke="#0a0a0a" stroke-width="1.3" stroke-linecap="round" fill="none"/>
<path d="M362.7 862.5V851.1H385.4V862.5" fill="none" stroke="#0a0a0a" stroke-width="1.3"/>
<text x="374" y="849.1" font-size="15" text-anchor="middle">ns</text>
<path d="M423.8 862.5V851.1H446.6V862.5" fill="none" stroke="#0a0a0a" stroke-width="1.3"/>
<path d="M431 845L431 842.8M431 845L433.09 844.32M431 845L432.29 846.78M431 845L429.71 846.78M431 845L428.91 844.32" stroke="#0a0a0a" stroke-width="1.3" stroke-linecap="round" fill="none"/>
<path d="M436.2 845L436.2 842.8M436.2 845L438.29 844.32M436.2 845L437.49 846.78M436.2 845L434.91 846.78M436.2 845L434.11 844.32" stroke="#0a0a0a" stroke-width="1.3" stroke-linecap="round" fill="none"/>
<path d="M495 862.5V851.1H519.5V862.5" fill="none" stroke="#0a0a0a" stroke-width="1.3"/>
<text x="506.8" y="849.1" font-size="15" text-anchor="middle">ns</text>
<path d="M556.1 862.5V851.1H578.8V862.5" fill="none" stroke="#0a0a0a" stroke-width="1.3"/>
<path d="M568.3 845L568.3 842.8M568.3 845L570.39 844.32M568.3 845L569.59 846.78M568.3 845L567.01 846.78M568.3 845L566.21 844.32" stroke="#0a0a0a" stroke-width="1.3" stroke-linecap="round" fill="none"/>
<text transform="matrix(1.05 0 0 1 100.1 1161.6)" font-size="18.5" text-anchor="middle">S3</text>
<text transform="matrix(1.05 0 0 1 125.4 1161.6)" font-size="18.5" text-anchor="middle">C</text>
<line x1="86.9" y1="1167.6" x2="137.7" y2="1167.6" stroke="#0a0a0a" stroke-width="1.8"/>
<text transform="matrix(1.03 0 0 1 110.8 1188.3)" font-size="19.5" text-anchor="middle">Veh</text>
<text x="114.5" y="1210.9" font-size="16.5" text-anchor="middle">9</text>
<text transform="matrix(1.05 0 0 1 159.6 1161.6)" font-size="18.5" text-anchor="middle">S3</text>
<text transform="matrix(1.05 0 0 1 184.7 1161.6)" font-size="18.5" text-anchor="middle">C</text>
<line x1="146" y1="1167.6" x2="195.6" y2="1167.6" stroke="#0a0a0a" stroke-width="1.8"/>
<text transform="matrix(1.03 0 0 1 167.2 1188.3)" font-size="19.5" text-anchor="middle">Rap</text>
<text x="173.3" y="1210.9" font-size="16.5" text-anchor="middle">9</text>
<text transform="matrix(1.05 0 0 1 230.6 1161.6)" font-size="18.5" text-anchor="middle">S3</text>
<text transform="matrix(1.05 0 0 1 255.4 1161.6)" font-size="18.5" text-anchor="middle">C</text>
<line x1="218.4" y1="1167.6" x2="269" y2="1167.6" stroke="#0a0a0a" stroke-width="1.8"/>
<text transform="matrix(1.03 0 0 1 239.9 1188.3)" font-size="19.5" text-anchor="middle">Veh</text>
<text x="246.3" y="1210.9" font-size="16.5" text-anchor="middle">10</text>
<text transform="matrix(1.05 0 0 1 290.2 1161.6)" font-size="18.5" text-anchor="middle">S3</text>
<text transform="matrix(1.05 0 0 1 314.9 1161.6)" font-size="18.5" text-anchor="middle">C</text>
<line x1="278.3" y1="1167.6" x2="328.4" y2="1167.6" stroke="#0a0a0a" stroke-width="1.8"/>
<text transform="matrix(1.03 0 0 1 301.2 1188.3)" font-size="19.5" text-anchor="middle">Rap</text>
<text x="304.2" y="1210.9" font-size="16.5" text-anchor="middle">10</text>
<text transform="matrix(1.05 0 0 1 361.8 1161.6)" font-size="18.5" text-anchor="middle">S3</text>
<text transform="matrix(1.05 0 0 1 386.4 1161.6)" font-size="18.5" text-anchor="middle">C</text>
<line x1="349.3" y1="1167.6" x2="398.6" y2="1167.6" stroke="#0a0a0a" stroke-width="1.8"/>
<text transform="matrix(1.03 0 0 1 373 1188.3)" font-size="19.5" text-anchor="middle">Veh</text>
<text x="376.7" y="1210.9" font-size="16.5" text-anchor="middle">10</text>
<text transform="matrix(1.05 0 0 1 421.5 1161.6)" font-size="18.5" text-anchor="middle">S3</text>
<text transform="matrix(1.05 0 0 1 447.4 1161.6)" font-size="18.5" text-anchor="middle">C</text>
<line x1="407.2" y1="1167.6" x2="456.8" y2="1167.6" stroke="#0a0a0a" stroke-width="1.8"/>
<text transform="matrix(1.03 0 0 1 432.3 1188.3)" font-size="19.5" text-anchor="middle">Rap</text>
<text x="435.5" y="1210.9" font-size="16.5" text-anchor="middle">10</text>
<text transform="matrix(1.05 0 0 1 494.8 1161.6)" font-size="18.5" text-anchor="middle">S3</text>
<text transform="matrix(1.05 0 0 1 520.3 1161.6)" font-size="18.5" text-anchor="middle">C</text>
<line x1="481.6" y1="1167.6" x2="531.2" y2="1167.6" stroke="#0a0a0a" stroke-width="1.8"/>
<text transform="matrix(1.03 0 0 1 506.6 1188.3)" font-size="19.5" text-anchor="middle">Veh</text>
<text x="506.9" y="1210.9" font-size="16.5" text-anchor="middle">10</text>
<text transform="matrix(1.05 0 0 1 554.2 1161.6)" font-size="18.5" text-anchor="middle">S3</text>
<text transform="matrix(1.05 0 0 1 579.9 1161.6)" font-size="18.5" text-anchor="middle">C</text>
<line x1="541.7" y1="1167.6" x2="591" y2="1167.6" stroke="#0a0a0a" stroke-width="1.8"/>
<text transform="matrix(1.03 0 0 1 565.5 1188.3)" font-size="19.5" text-anchor="middle">Rap</text>
<text x="566" y="1210.9" font-size="16.5" text-anchor="middle">12</text>
<text x="78.9" y="1210.9" font-size="15.3" text-anchor="start">n</text>
<line x1="84.4" y1="1217.8" x2="193.6" y2="1217.8" stroke="#0a0a0a" stroke-width="1.95"/>
<line x1="216" y1="1217.8" x2="325.4" y2="1217.8" stroke="#0a0a0a" stroke-width="1.95"/>
<line x1="351" y1="1217.8" x2="461" y2="1217.8" stroke="#0a0a0a" stroke-width="1.95"/>
<line x1="480.6" y1="1217.8" x2="589.8" y2="1217.8" stroke="#0a0a0a" stroke-width="1.95"/>
<text x="139" y="1237" font-size="18.5" text-anchor="middle">WT</text>
<text x="244.1" y="1237" font-size="18.6" text-anchor="start"><tspan font-style="italic">Tsc1</tspan><tspan font-size="10.42" dx="0.3" dy="-5.58">+/&#8722;</tspan></text>
<text x="376.3" y="1237" font-size="18.6" text-anchor="start"><tspan font-style="italic">Tsc2</tspan><tspan font-size="10.42" dx="0.3" dy="-5.58">+/&#8722;</tspan></text>
<text x="503.1" y="1237" font-size="18.6" text-anchor="start"><tspan font-style="italic">TscD</tspan><tspan font-size="10.42" dx="0.3" dy="-5.58">+/&#8722;</tspan></text>
</svg>
</body></html>
